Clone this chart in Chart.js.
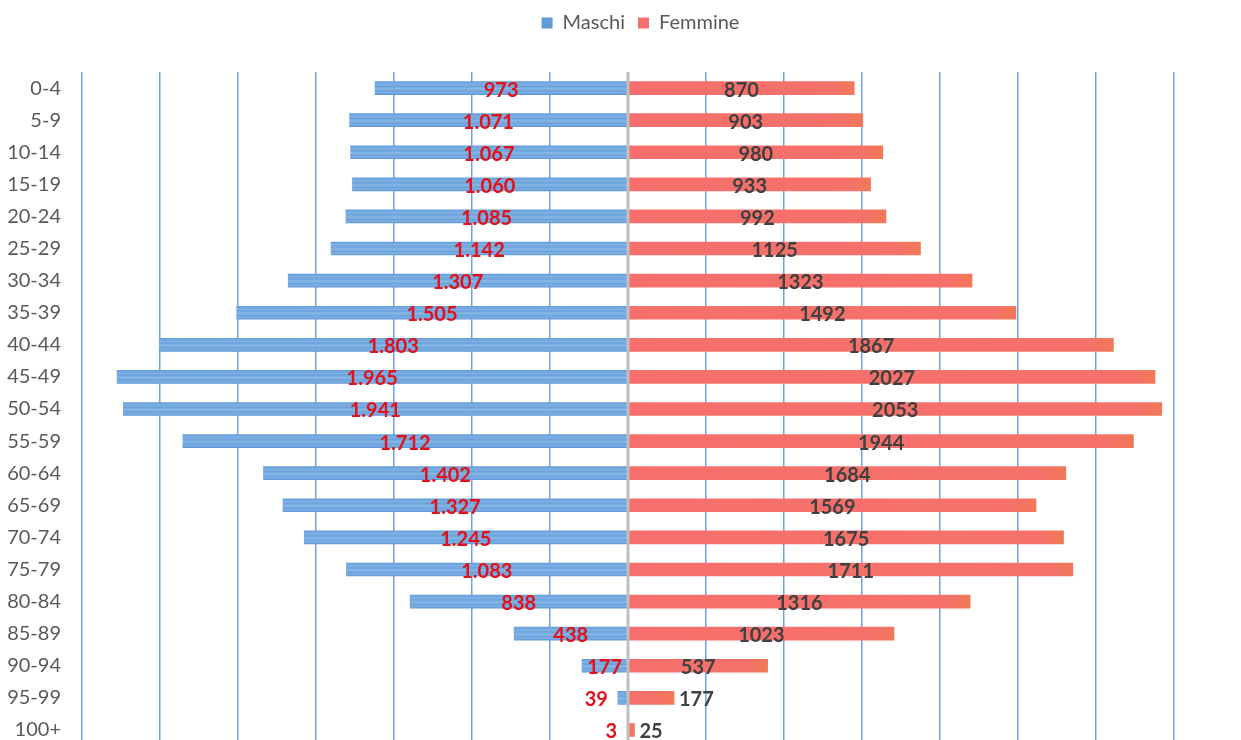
<!DOCTYPE html>
<html>
<head>
<meta charset="utf-8">
<script src="https://cdn.jsdelivr.net/npm/chart.js@4"></script>
<style>
  html, body { margin: 0; padding: 0; background: #fff; overflow: hidden; }
  canvas { display: block; }
</style>
</head>
<body>
<canvas id="myChart" width="1241" height="750"></canvas>
<script>
const ageGroups = ['0-4', '5-9', '10-14', '15-19', '20-24', '25-29', '30-34', '35-39', '40-44', '45-49',
    '50-54', '55-59', '60-64', '65-69', '70-74', '75-79', '80-84', '85-89', '90-94', '95-99', '100+']
const maleValues = [973, 1071, 1067, 1060, 1085, 1142, 1307, 1505, 1803, 1965,
    1941, 1712, 1402, 1327, 1245, 1083, 838, 438, 177, 39, 3]
const femaleValues = [870, 903, 980, 933, 992, 1125, 1323, 1492, 1867, 2027,
    2053, 1944, 1684, 1569, 1675, 1711, 1316, 1023, 537, 177, 25]
const xMin = -2100, xMax = 2100, xStep = 300

window.addEventListener("load", function(){
    Chart.defaults.font.family = 'Lato'
    Chart.defaults.color = '#595959'

    // italian thousands separator for the male labels
    const fmtIt = n => n >= 1000 ? Math.floor(n / 1000) + '.' + String(n % 1000).padStart(3, '0') : String(n)

    const maleFill = c => {
        const y = c.chart.scales.y
        if (c.type !== 'data' || !y) return '#5b9bd5'
        const py = y.getPixelForValue(c.dataIndex)
        if (!Number.isFinite(py)) return '#6aa1db'
        const g = c.chart.ctx.createLinearGradient(0, py - 6.5, 0, py + 6.5)
        g.addColorStop(0, '#639bd8')
        g.addColorStop(0.2, '#7fb0e4')
        g.addColorStop(0.38, '#6ca3dc')
        g.addColorStop(0.55, '#88b8e7')
        g.addColorStop(0.72, '#6ca3dc')
        g.addColorStop(0.88, '#7caee3')
        g.addColorStop(1, '#5f98d6')
        return g
    }

    const femaleFill = c => {
        const x = c.chart.scales.x
        if (c.type !== 'data' || !x) return '#f0784a'
        const x0 = x.getPixelForValue(0)
        const x1 = x.getPixelForValue(femaleValues[c.dataIndex])
        if (!Number.isFinite(x0) || !Number.isFinite(x1)) return '#f5716a'
        if (x1 - x0 < 2) return '#f08050'
        const g = c.chart.ctx.createLinearGradient(x0, 0, x1, 0)
        g.addColorStop(0, '#f66f6c')
        g.addColorStop(Math.max(0, 1 - 25 / (x1 - x0)), '#f5716a')
        g.addColorStop(1, '#f17858')
        return g
    }

    // fixed legend band height, legend shifted a little to the right like the original
    const legendBox = {
        id: 'legendBox',
        beforeInit(chart) {
            if (!chart.legend) return
            const fit = chart.legend.fit
            chart.legend.fit = function() {
                fit.bind(chart.legend)()
                this.height = 72
            }
        },
        afterLayout(chart) {
            if (!chart.legend) return
            chart.legend.left += 20
            chart.legend.right += 20
        }
    }

    const barLabels = {
        id: 'barLabels',
        afterDatasetsDraw(chart) {
            const ctx = chart.ctx
            const area = chart.chartArea
            const cx = chart.scales.x.getPixelForValue(0)

            // grey centre axis
            ctx.save()
            ctx.strokeStyle = '#bfbfbf'
            ctx.lineWidth = 3
            ctx.beginPath()
            ctx.moveTo(cx, area.top)
            ctx.lineTo(cx, area.bottom)
            ctx.stroke()

            ctx.font = 'bold 20px Lato'
            ctx.textBaseline = 'middle'
            chart.data.datasets.forEach((ds, i) => {
                const meta = chart.getDatasetMeta(i)
                meta.data.forEach((bar, j) => {
                    const text = i === 0 ? fmtIt(maleValues[j]) : String(femaleValues[j])
                    const p = bar.getProps(['x', 'y', 'base'], true)
                    const w = Math.abs(p.x - p.base)
                    const tw = ctx.measureText(text).width
                    let tx
                    if (tw + (i === 0 ? 4 : 12) <= w) {
                        ctx.textAlign = 'center'
                        tx = (p.x + p.base) / 2
                    } else if (i === 0) {
                        ctx.textAlign = 'right'
                        tx = Math.min(p.x, p.base) - 10
                    } else {
                        ctx.textAlign = 'left'
                        tx = Math.max(p.x, p.base) + 5
                    }
                    ctx.fillStyle = i === 0 ? '#e3111a' : '#404040'
                    ctx.fillText(text, tx, p.y + 2)
                })
            })
            ctx.restore()
        }
    }

    const noPad = s => { s.paddingTop = 0; s.paddingBottom = 0 }

    const ctx = document.getElementById("myChart")

    new Chart(ctx, {
        type: "bar",
        data: {
            labels: ageGroups,
            datasets: [{
                label: 'Maschi',
                data: maleValues.map(v => -v),
                backgroundColor: maleFill,
                borderWidth: 0,
                barThickness: 13
            }, {
                label: 'Femmine',
                data: femaleValues,
                backgroundColor: femaleFill,
                borderWidth: 0,
                barThickness: 13
            }]
        },
        plugins: [legendBox, barLabels],
        options: {
            indexAxis: 'y',
            responsive: false,
            animation: false,
            events: [],
            layout: { padding: 0 },
            plugins: {
                legend: {
                    position: 'top',
                    labels: {
                        boxWidth: 11,
                        boxHeight: 11,
                        padding: 13,
                        color: '#595959',
                        font: { size: 20 }
                    }
                },
                tooltip: { enabled: false }
            },
            scales: {
                x: {
                    stacked: true,
                    min: xMin,
                    max: xMax,
                    ticks: { display: false, stepSize: xStep },
                    grid: {
                        color: '#6ea2de',
                        lineWidth: 1.5,
                        drawTicks: false
                    },
                    border: { display: false },
                    afterFit: s => { s.height = 4; s.paddingLeft = 0; s.paddingRight = 0 }
                },
                y: {
                    stacked: true,
                    grid: { display: false, drawTicks: false },
                    border: { display: false },
                    ticks: {
                        padding: 21,
                        color: '#595959',
                        font: { size: 20 }
                    },
                    afterFit: s => { s.width = 82; noPad(s) }
                },
                y2: {
                    type: 'linear',
                    position: 'right',
                    grid: { display: false, drawTicks: false },
                    border: { display: false },
                    ticks: { display: false },
                    afterFit: s => { s.width = 67; noPad(s) }
                }
            }
        }
    });
})
</script>
</body>
</html>
